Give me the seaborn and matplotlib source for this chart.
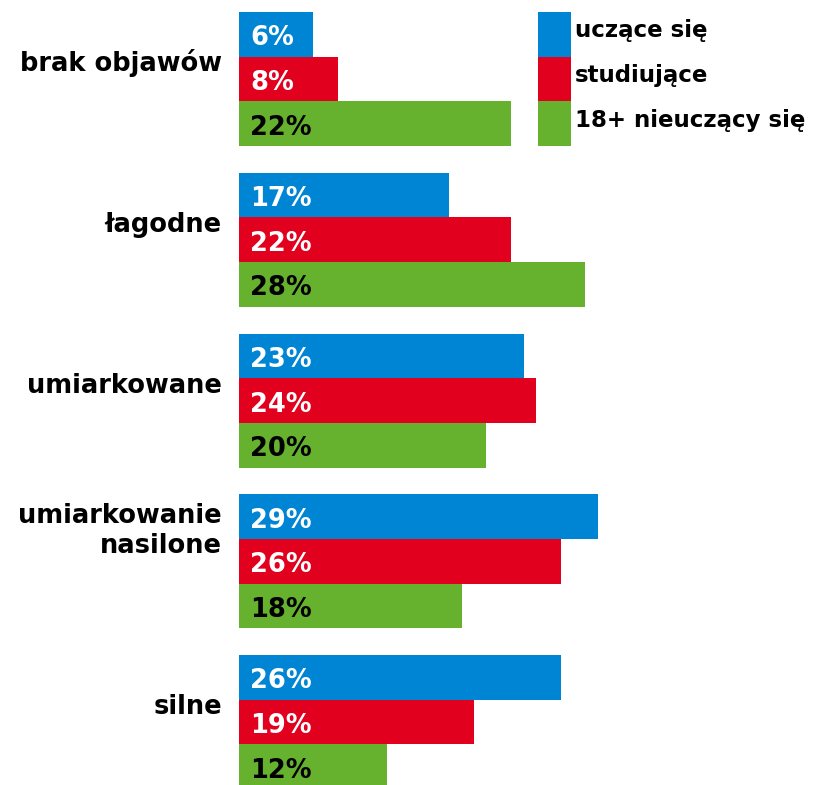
import matplotlib
matplotlib.use("Agg")
import matplotlib.pyplot as plt
import matplotlib.transforms as mtransforms
from matplotlib.patches import Rectangle
import seaborn as sns
import pandas as pd

# Severity of symptoms by respondent group (percent)
categories = ["brak objawów", "łagodne", "umiarkowane", "umiarkowanie\nnasilone", "silne"]
groups = ["uczące się", "studiujące", "18+ nieuczący się"]
uczace = [6, 17, 23, 29, 26]
studiujace = [8, 22, 24, 26, 19]
nieuczacy = [22, 28, 20, 18, 12]
colors = ["#0085D4", "#E1001E", "#66B22F"]
label_colors = ["white", "white", "black"]

df = pd.DataFrame({
    "kategoria": categories * 3,
    "grupa": [g for g in groups for _ in categories],
    "wartość": uczace + studiujace + nieuczacy,
})

sns.set_theme(style="white")
plt.rcParams["font.family"] = ["DejaVu Sans"]

W, H = 814, 785
fig = plt.figure(figsize=(W / 100, H / 100), dpi=100)
ax = fig.add_axes([239 / W, 0, 1 - 239 / W, 1])

sns.barplot(data=df, y="kategoria", x="wartość", hue="grupa", orient="h",
            palette=colors, width=0.834, saturation=1, linewidth=0,
            order=categories, hue_order=groups, legend=False, ax=ax)

px_per_unit = 160.75
top = -0.417 - 12 / px_per_unit
ax.set_ylim(top + H / px_per_unit, top)
ax.set_xlim(0, (W - 239) / 12.37)

# Value labels inside the bars, near the baseline
for cont, lc in zip(ax.containers, label_colors):
    for patch in cont:
        v = patch.get_width()
        ax.annotate(f"{v:.0f}%", (0, patch.get_y() + patch.get_height() / 2),
                    xytext=(11, -11), textcoords="offset pixels",
                    ha="left", va="baseline", color=lc,
                    fontsize=18.5, fontweight="bold")

# Category names to the left of each group
for i, cat in enumerate(categories):
    ax.annotate(cat, (0, i), xytext=(-17, 8), textcoords="offset pixels",
                ha="right", va="baseline", color="black",
                fontsize=18.5, fontweight="bold", annotation_clip=False)

ax.set_xlabel("")
ax.set_ylabel("")
ax.set_xticks([])
ax.set_yticks([])
sns.despine(ax=ax, left=True, bottom=True)

# Legend: colour blocks aligned with the first group's bars
blend = mtransforms.blended_transform_factory(fig.transFigure, ax.transData)
for cont, col, name in zip(ax.containers, colors, groups):
    p = cont[0]
    ax.add_patch(Rectangle((538 / W, p.get_y()), 33 / W, p.get_height(),
                           facecolor=col, edgecolor="none", transform=blend,
                           clip_on=False))
    ax.annotate(name, (575 / W, p.get_y() + p.get_height() / 2),
                xycoords=blend, xytext=(0, -3), textcoords="offset pixels",
                ha="left", va="baseline", color="black",
                fontsize=16.5, fontweight="bold", annotation_clip=False)

fig.savefig("out.png", dpi=100)
